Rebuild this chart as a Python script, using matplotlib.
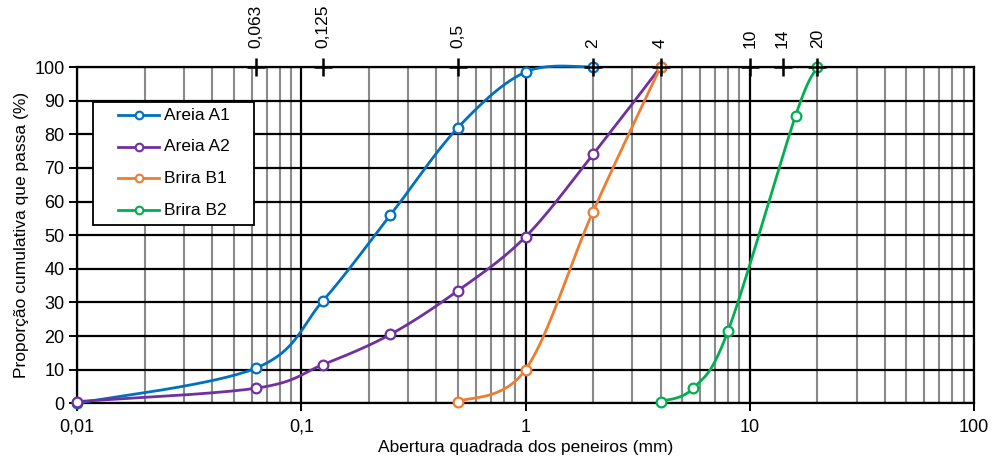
import numpy as np
import matplotlib
matplotlib.use("Agg")
import matplotlib.pyplot as plt
from matplotlib.ticker import FixedLocator, NullFormatter, FixedFormatter
from matplotlib.patches import Rectangle
from matplotlib.lines import Line2D

plt.rcParams['font.family'] = ['Liberation Sans', 'DejaVu Sans']

# ---- data ----
series_names = ["Areia A1", "Areia A2", "Brira B1", "Brira B2"]
colors = ["#0070C0", "#7030A0", "#ED7D31", "#00B050"]

a1_x = [0.01, 0.063, 0.125, 0.25, 0.5, 1, 2]
a1_y = [0, 10.5, 30.5, 56, 82, 98.5, 100]
a2_x = [0.01, 0.063, 0.125, 0.25, 0.5, 1, 2, 4]
a2_y = [0.5, 4.5, 11.5, 20.5, 33.5, 49.5, 74, 100]
b1_x = [0.5, 1, 2, 4]
b1_y = [0.5, 10, 57, 100]
b2_x = [4, 5.6, 8, 16, 20]
b2_y = [0.5, 4.5, 21.5, 85.5, 100]

top_ticks = [0.063, 0.125, 0.5, 2, 4, 10, 14, 20]
top_labels = ["0,063", "0,125", "0,5", "2", "4", "10", "14", "20"]
x_major = [0.01, 0.1, 1, 10, 100]
x_major_labels = ["0,01", "0,1", "1", "10", "100"]
y_ticks = list(range(0, 101, 10))

W, H = 992, 457
fig = plt.figure(figsize=(W / 100, H / 100), dpi=100)
left, right, top, bottom = 77, 974, 67, 403.3
ax = fig.add_axes([left / W, 1 - bottom / H, (right - left) / W, (bottom - top) / H])
ax.set_xscale('log')
ax.set_xlim(0.01, 100)
ax.set_ylim(0, 100)

# grid
minor = [m * 10.0 ** e for e in range(-2, 2) for m in range(2, 10)]
for xv in minor:
    ax.axvline(xv, color="#8a8a8a", lw=1.5, zorder=1)
for xv in x_major:
    ax.axvline(xv, color="black", lw=1.6, zorder=1.2)
for yv in y_ticks:
    ax.axhline(yv, color="black", lw=1.6, zorder=1.2)

ax.xaxis.set_major_locator(FixedLocator(x_major))
ax.xaxis.set_major_formatter(FixedFormatter(x_major_labels))
ax.xaxis.set_minor_locator(FixedLocator([]))
ax.xaxis.set_minor_formatter(NullFormatter())
ax.set_yticks(y_ticks)
ax.tick_params(axis='both', labelsize=13, length=6, width=1.4, color='black', pad=3)
ax.tick_params(axis='x', pad=5)
for s in ax.spines.values():
    s.set_linewidth(1.6)
    s.set_zorder(3)

ax.set_xlabel("Abertura quadrada dos peneiros (mm)", fontsize=12.5, labelpad=3)
ax.set_ylabel("Proporção cumulativa que passa (%)", fontsize=12.5, labelpad=4)

fig.canvas.draw()
trans = ax.transData
inv = trans.inverted()


def smooth(xs, ys, n=60):
    P = trans.transform(np.column_stack([xs, ys]))
    m = len(P)
    out = [P[0]]
    for i in range(m - 1):
        p0 = P[i - 1] if i > 0 else P[i]
        p1 = P[i]
        p2 = P[i + 1]
        p3 = P[i + 2] if i + 2 < m else P[i + 1]
        c1 = p1 + (p2 - p0) / 6.0
        c2 = p2 - (p3 - p1) / 6.0
        t = np.linspace(0, 1, n)[1:, None]
        seg = ((1 - t) ** 3) * p1 + 3 * ((1 - t) ** 2) * t * c1 + 3 * (1 - t) * t ** 2 * c2 + t ** 3 * p2
        out.extend(seg)
    out = inv.transform(np.array(out))
    return out[:, 0], out[:, 1]


data = [(a1_x, a1_y), (a2_x, a2_y), (b1_x, b1_y), (b2_x, b2_y)]
for (xs, ys), c in zip(data, colors):
    sx, sy = smooth(xs, ys)
    ax.plot(sx, sy, color=c, lw=2, zorder=4, clip_on=False, solid_capstyle='round')
    ax.plot(xs, ys, ls='none', marker='o', ms=7, mfc='white', mec=c, mew=1.6, zorder=5, clip_on=False)

# top secondary ticks
ax.plot(top_ticks, [100] * len(top_ticks), ls='none', marker='+', ms=13, mew=1.8,
        color='black', zorder=6, clip_on=False)
for xv, lab in zip(top_ticks, top_labels):
    ax.annotate(lab, (xv, 100), xytext=(0, 19), textcoords='offset pixels',
                rotation=90, ha='center', va='bottom', fontsize=12.5)

# legend drawn manually (pixel layout of the reference)
def fx(px):
    return (px - left) / (right - left)


def fy(py):
    return (bottom - py) / (bottom - top)


ax.add_patch(Rectangle((fx(93), fy(225)), fx(254) - fx(93), fy(102) - fy(225),
                       transform=ax.transAxes, facecolor='white', edgecolor='black',
                       lw=1.3, zorder=8))
for i, (name, c) in enumerate(zip(series_names, colors)):
    py = 115 + i * 31.7
    ax.add_line(Line2D([fx(118), fx(159)], [fy(py), fy(py)], transform=ax.transAxes,
                       color=c, lw=2, zorder=9))
    ax.add_line(Line2D([fx(138.5)], [fy(py)], transform=ax.transAxes, ls='none',
                       marker='o', ms=5.5, mfc='white', mec=c, mew=1.5, zorder=10))
    ax.text(fx(164), fy(py), name, transform=ax.transAxes, ha='left', va='center',
            fontsize=12.5, zorder=10)

fig.savefig("out.png", dpi=100)
